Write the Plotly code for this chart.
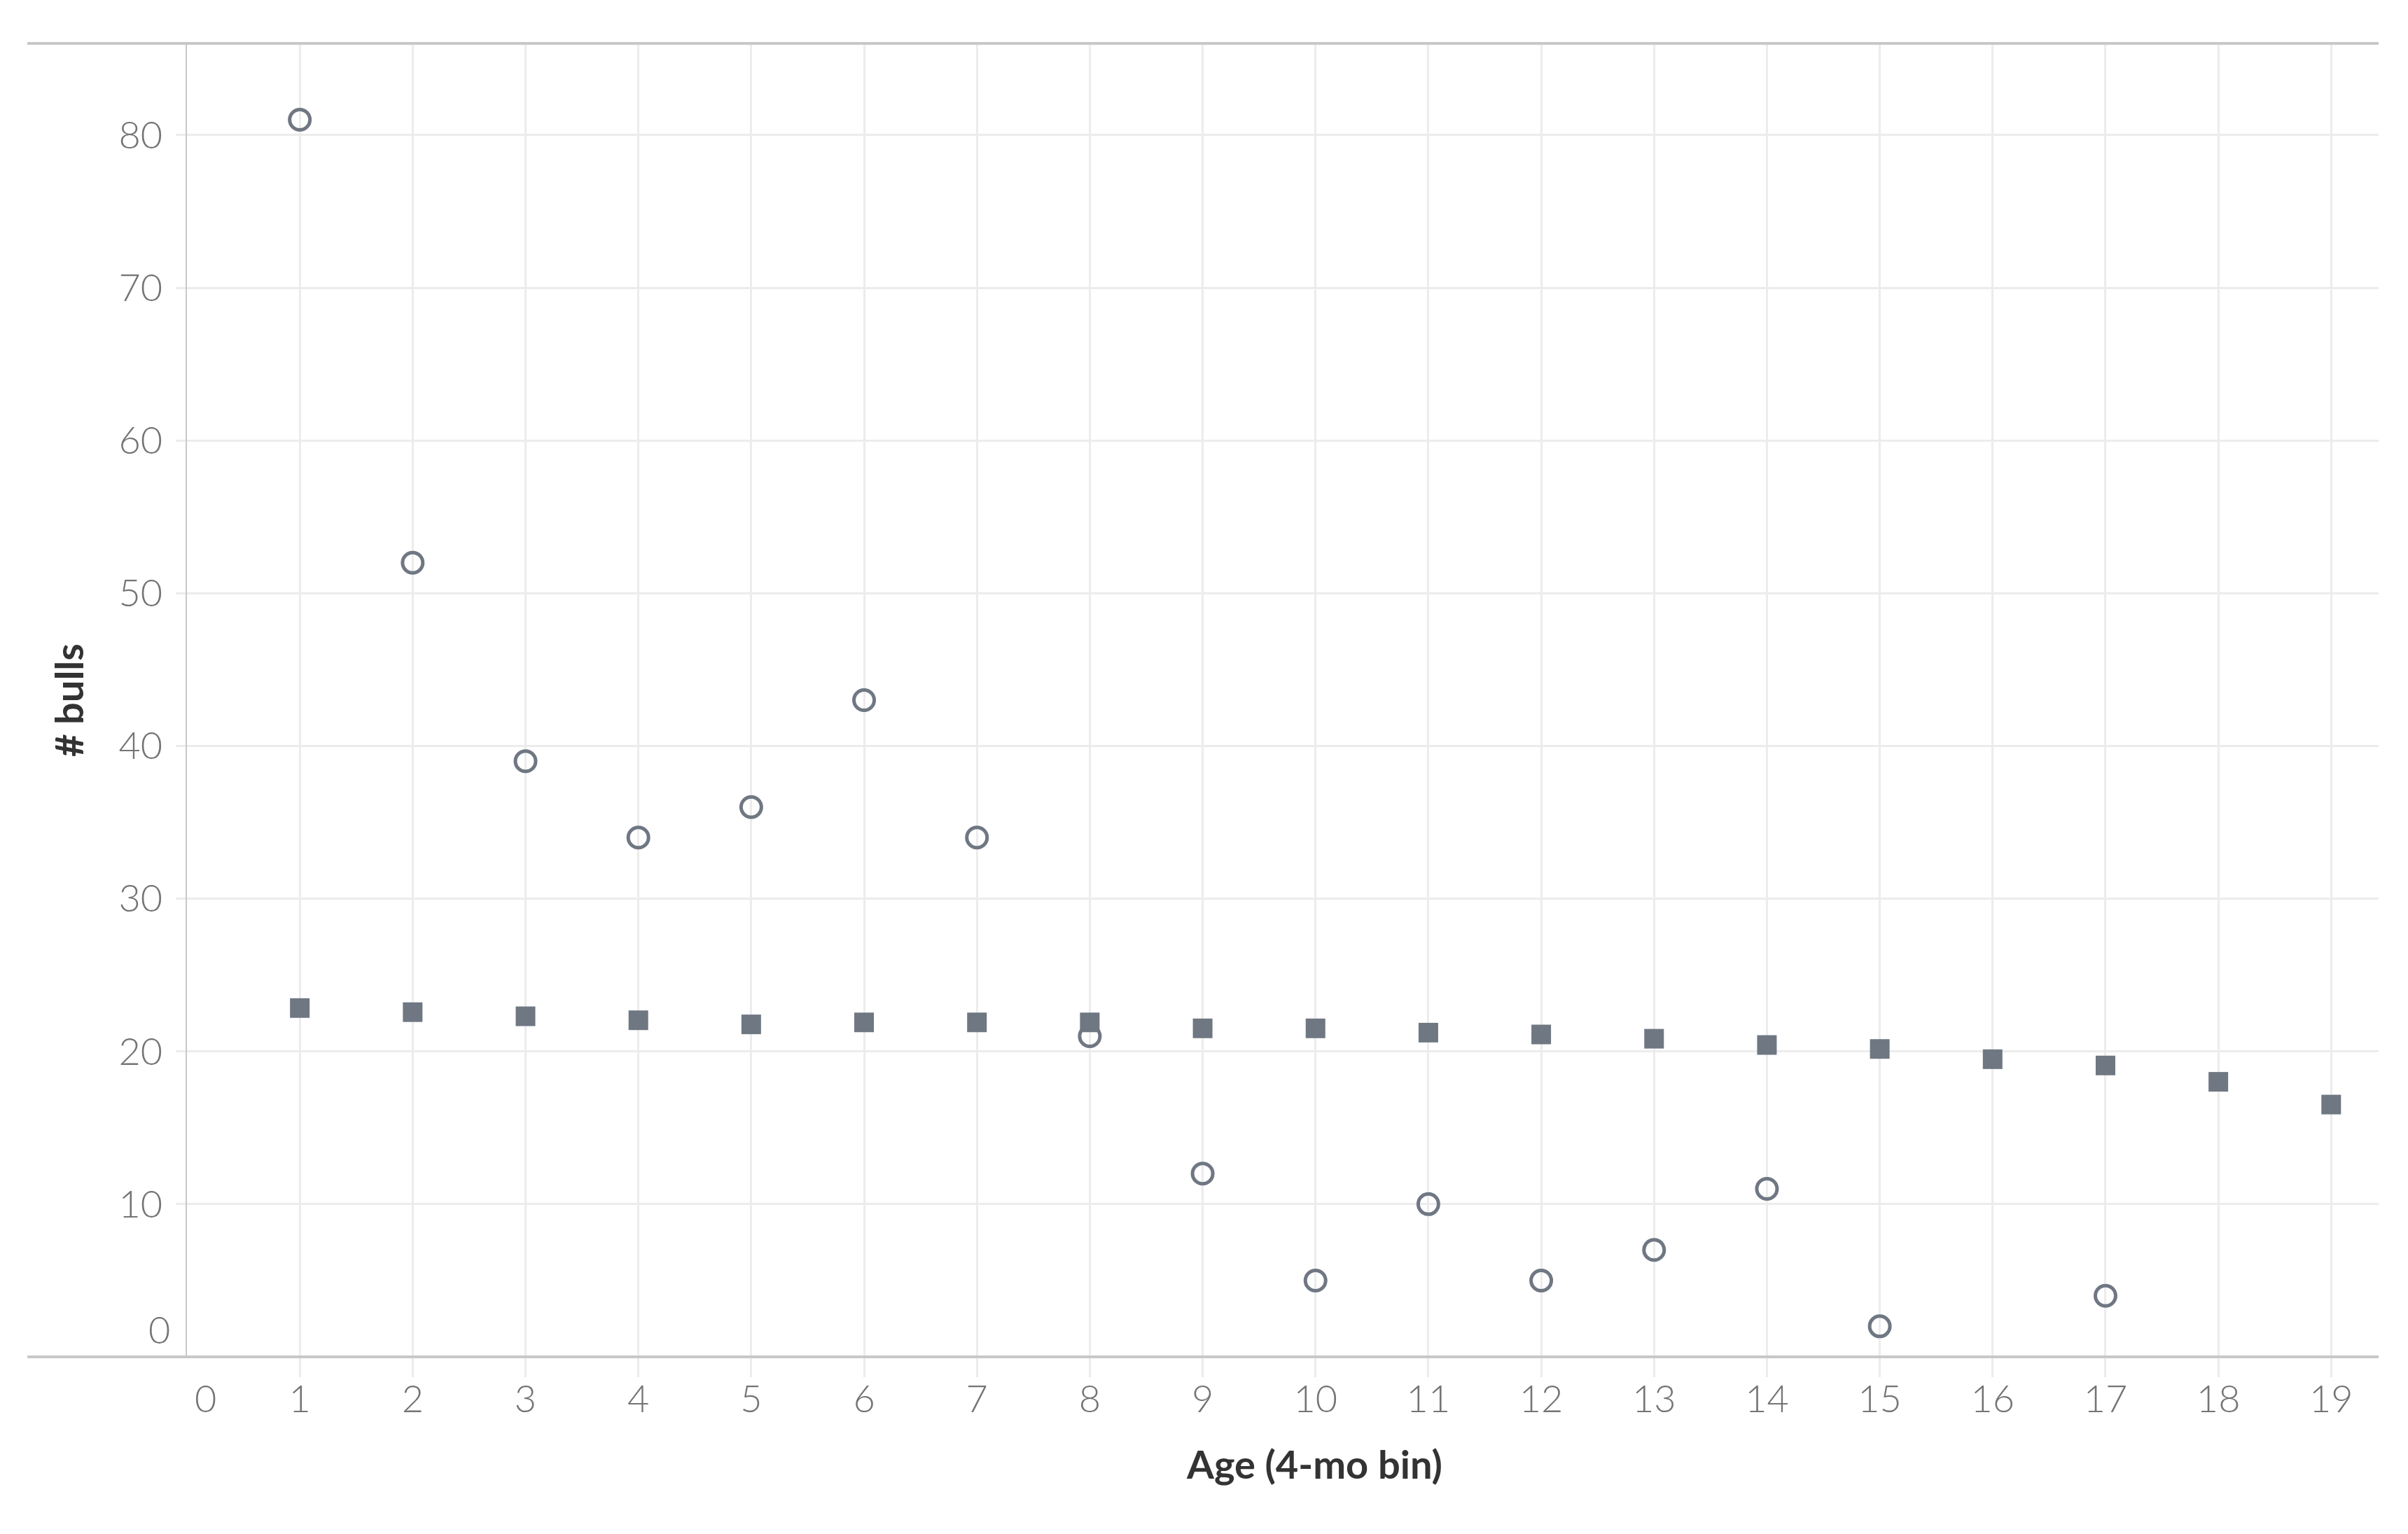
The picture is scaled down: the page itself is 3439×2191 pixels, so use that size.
import plotly.graph_objects as go

# ---- data ----
age_bins = list(range(1, 20))
observed_bins = [1, 2, 3, 4, 5, 6, 7, 8, 9, 10, 11, 12, 13, 14, 15, 17]
observed_bulls = [81, 52, 39, 34, 36, 43, 34, 21, 12, 5, 10, 5, 7, 11, 2, 4]
expected_bulls = [22.84, 22.57, 22.30, 22.04, 21.77, 21.90, 21.90, 21.90, 21.51, 21.51,
                  21.23, 21.11, 20.83, 20.42, 20.16, 19.49, 19.08, 18.01, 16.52]

x_tick_vals = list(range(1, 20))
x_tick_text = [str(v) for v in x_tick_vals]
y_tick_vals = [10, 20, 30, 40, 50, 60, 70, 80]
y_tick_text = [str(v) for v in y_tick_vals]
zero_label = "0"

x_title = "Age (4-mo bin)"
y_title = "# bulls"

# ---- style ----
OFF = 8  # default page body margin
W, H = 3439 - 2 * OFF, 2191 - 2 * OFF
ML, MT = 267 - OFF, 62 - OFF
PW, PH = 3130, 1876
MR = W - ML - PW
MB = H - MT - PH
MARK = "#6f7783"
GRID = "#ececec"
AXIS = "#c8c8c8"
TICKFONT = dict(family="Lato", size=54, color="#747474", weight=300)
TITLEFONT = dict(family="Lato", size=56, color="#333333")

fig = go.Figure()
fig.add_trace(go.Scatter(
    x=observed_bins, y=observed_bulls, mode="markers",
    marker=dict(symbol="circle-open", size=29, color=MARK, line=dict(width=5, color=MARK)),
    showlegend=False, cliponaxis=False))
fig.add_trace(go.Scatter(
    x=age_bins, y=expected_bulls, mode="markers",
    marker=dict(symbol="square", size=28, color=MARK, line=dict(width=0)),
    showlegend=False, cliponaxis=False))

left_ext = (39 - 267) / PW

fig.update_layout(
    width=W, height=H,
    margin=dict(l=ML, r=MR, t=MT, b=MB, pad=0),
    paper_bgcolor="white", plot_bgcolor="white",
    xaxis=dict(range=[0, 19.42], tickvals=x_tick_vals, ticktext=x_tick_text,
               showgrid=True, gridcolor=GRID, gridwidth=3, zeroline=False,
               showline=False, ticks="outside", ticklen=28, tickwidth=3, tickcolor=GRID,
               tickfont=TICKFONT, ticklabelstandoff=-15),
    yaxis=dict(range=[0, 86.0], tickvals=y_tick_vals, ticktext=y_tick_text,
               showgrid=True, gridcolor=GRID, gridwidth=3, zeroline=False,
               showline=True, linecolor=AXIS, linewidth=2, ticks="outside", ticklen=14,
               tickwidth=3, tickcolor=GRID, tickfont=TICKFONT, ticklabelstandoff=8),
    shapes=[
        dict(type="line", xref="paper", yref="paper", x0=left_ext, x1=1, y0=1, y1=1,
             line=dict(color=AXIS, width=4), layer="above"),
        dict(type="line", xref="paper", yref="paper", x0=left_ext, x1=1, y0=0, y1=0,
             line=dict(color=AXIS, width=4), layer="above"),
    ],
    annotations=[
        dict(x=0, y=0, xref="x", yref="y", text=zero_label, showarrow=False,
             xanchor="right", yanchor="middle", xshift=-22, yshift=40, font=TICKFONT),
        dict(x=0, y=0, xref="x", yref="y", text=zero_label, showarrow=False,
             xanchor="left", yanchor="middle", xshift=9, yshift=-58, font=TICKFONT),
        dict(x=(1877 - 267) / PW, y=0, xref="paper", yref="paper", text="<b>" + x_title + "</b>",
             showarrow=False, xanchor="center", yanchor="middle", yshift=-152, font=TITLEFONT),
        dict(x=(97 - 267) / PW, y=0.5, xref="paper", yref="paper", text="<b>" + y_title + "</b>",
             showarrow=False, textangle=-90, xanchor="center", yanchor="middle", font=TITLEFONT),
    ],
)

fig.write_html("out.html")
